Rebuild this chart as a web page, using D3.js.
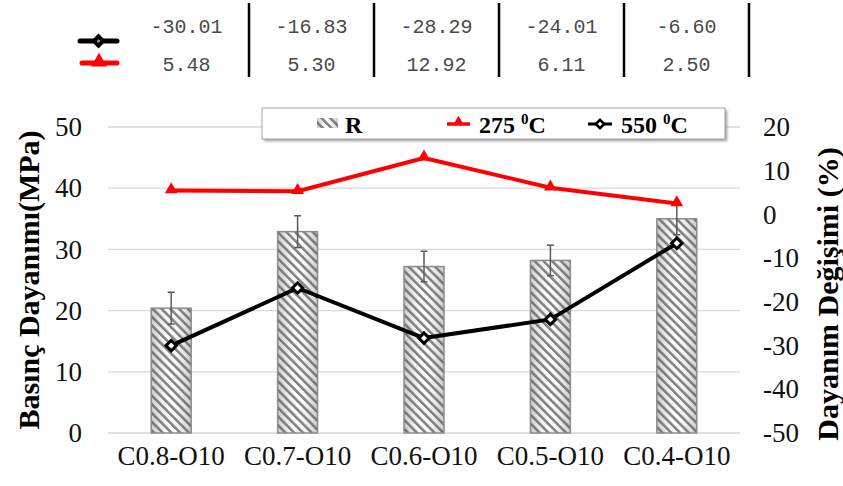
<!DOCTYPE html>
<html>
<head>
<meta charset="utf-8">
<script src="https://cdnjs.cloudflare.com/ajax/libs/d3/7.8.5/d3.min.js"></script>
<style>
  html, body { margin: 0; padding: 0; background: #fff; }
  svg { display: block; }
  .serif { font-family: "Liberation Serif", "Times New Roman", serif; }
  .mono { font-family: "Liberation Mono", "Courier New", monospace; }
</style>
</head>
<body>
<svg id="chart" width="843" height="486"></svg>
<script>
const categories = ["C0.8-O10", "C0.7-O10", "C0.6-O10", "C0.5-O10", "C0.4-O10"];
const strength = [20.4, 32.9, 27.2, 28.2, 35.0];
const strengthErr = [2.6, 2.6, 2.5, 2.5, 2.6];
const change275 = [5.48, 5.30, 12.92, 6.11, 2.50];
const change550 = [-30.01, -16.83, -28.29, -24.01, -6.60];
const tableRow550 = ["-30.01", "-16.83", "-28.29", "-24.01", "-6.60"];
const tableRow275 = ["5.48", "5.30", "12.92", "6.11", "2.50"];
const leftTicks = [0, 10, 20, 30, 40, 50];
const rightTicks = [-50, -40, -30, -20, -10, 0, 10, 20];
const leftTitle = "Basınç Dayanımı(MPa)";
const rightTitle = "Dayanım Değişimi (%)";

const svg = d3.select("#chart");
const fmt = d => String(d);

const x = d3.scaleBand().domain(categories).range([108, 740]).paddingInner(0.684).paddingOuter(0.342);
const yL = d3.scaleLinear().domain([0, 50]).range([433, 127]);
const yR = d3.scaleLinear().domain([-50, 20]).range([433, 127]);
const xt = d3.scaleBand().domain(categories).range([124, 749]);

// defs
const defs = svg.append("defs");
const pat = defs.append("pattern").attr("id", "hatch").attr("patternUnits", "userSpaceOnUse")
  .attr("width", 6.2).attr("height", 6.2).attr("patternTransform", "rotate(-45)");
pat.append("rect").attr("width", 6.2).attr("height", 6.2).attr("fill", "#fff");
pat.append("rect").attr("x", 0).attr("width", 2.5).attr("height", 6.2).attr("fill", "#5e5e5e");
const grad = defs.append("linearGradient").attr("id", "shade").attr("x1", 0).attr("x2", 1).attr("y1", 0).attr("y2", 0);
grad.append("stop").attr("offset", "0%").attr("stop-color", "#888").attr("stop-opacity", 0.45);
grad.append("stop").attr("offset", "50%").attr("stop-color", "#fff").attr("stop-opacity", 0.2);
grad.append("stop").attr("offset", "100%").attr("stop-color", "#888").attr("stop-opacity", 0.45);
const blur = defs.append("filter").attr("id", "shadow").attr("x", "-5%").attr("y", "-30%").attr("width", "110%").attr("height", "160%");
blur.append("feGaussianBlur").attr("stdDeviation", 1.5);

// gridlines
svg.append("g").selectAll("line").data(leftTicks).join("line")
  .attr("x1", 108).attr("x2", 740)
  .attr("y1", d => yL(d)).attr("y2", d => yL(d))
  .attr("stroke", "#d9d9d9").attr("stroke-width", 1.3);

function styleAxis(g) {
  g.select(".domain").remove();
  g.attr("font-family", null).attr("font-size", null);
  g.selectAll("text").attr("class", "serif").style("font-size", "27px").attr("fill", "#111");
}

// left axis
const axL = svg.append("g").attr("transform", "translate(108,0)")
  .call(d3.axisLeft(yL).tickValues(leftTicks).tickFormat(fmt).tickSize(0).tickPadding(26));
styleAxis(axL);

// right axis
const axR = svg.append("g").attr("transform", "translate(740,0)")
  .call(d3.axisRight(yR).tickValues(rightTicks).tickFormat(fmt).tickSize(0).tickPadding(23));
styleAxis(axR);

// x axis labels
const axB = svg.append("g").attr("transform", "translate(0,433)")
  .call(d3.axisBottom(x).tickSize(0).tickPadding(13));
styleAxis(axB);

// bars
const bars = svg.append("g");
bars.selectAll("rect.bar").data(categories).join("rect").attr("class", "bar")
  .attr("x", d => x(d)).attr("width", x.bandwidth())
  .attr("y", (d, i) => yL(strength[i])).attr("height", (d, i) => yL(0) - yL(strength[i]))
  .attr("fill", "url(#hatch)");
bars.selectAll("rect.shade").data(categories).join("rect").attr("class", "shade")
  .attr("x", d => x(d)).attr("width", x.bandwidth())
  .attr("y", (d, i) => yL(strength[i])).attr("height", (d, i) => yL(0) - yL(strength[i]))
  .attr("fill", "url(#shade)").attr("stroke", "#8c8c8c").attr("stroke-width", 1.5);

// error bars
const eb = svg.append("g").attr("stroke", "#5a5a5a").attr("stroke-width", 1.5);
categories.forEach((c, i) => {
  const cx = x(c) + x.bandwidth() / 2;
  const top = yL(strength[i] + strengthErr[i]), bot = yL(strength[i] - strengthErr[i]);
  eb.append("line").attr("x1", cx).attr("x2", cx).attr("y1", top).attr("y2", bot);
  eb.append("line").attr("x1", cx - 3.5).attr("x2", cx + 3.5).attr("y1", top).attr("y2", top);
  eb.append("line").attr("x1", cx - 3.5).attr("x2", cx + 3.5).attr("y1", bot).attr("y2", bot);
});

const cxOf = c => x(c) + x.bandwidth() / 2;

// 275 line
const line275 = d3.line().x((d, i) => cxOf(categories[i])).y(d => yR(d));
svg.append("path").datum(change275).attr("d", line275)
  .attr("fill", "none").attr("stroke", "#ff0000").attr("stroke-width", 4).attr("stroke-linejoin", "round");
const tri = d3.symbol().type(d3.symbolTriangle).size(70);
svg.append("g").selectAll("path").data(change275).join("path")
  .attr("d", tri).attr("transform", (d, i) => `translate(${cxOf(categories[i])},${yR(d) - 1})`)
  .attr("fill", "#ff0000");

// 550 line
const line550 = d3.line().x((d, i) => cxOf(categories[i])).y(d => yR(d));
svg.append("path").datum(change550).attr("d", line550)
  .attr("fill", "none").attr("stroke", "#000").attr("stroke-width", 4).attr("stroke-linejoin", "round");
const dia = d3.symbol().type(d3.symbolDiamond2).size(70);
svg.append("g").selectAll("path").data(change550).join("path")
  .attr("d", dia).attr("transform", (d, i) => `translate(${cxOf(categories[i])},${yR(d)})`)
  .attr("fill", "#fff").attr("stroke", "#000").attr("stroke-width", 3);

// legend box
const lg = svg.append("g");
lg.append("rect").attr("x", 264).attr("y", 110).attr("width", 463).attr("height", 31)
  .attr("fill", "#999").attr("filter", "url(#shadow)");
lg.append("rect").attr("x", 262).attr("y", 108).attr("width", 463).attr("height", 31)
  .attr("fill", "#fff").attr("stroke", "#a6a6a6").attr("stroke-width", 1);
lg.append("rect").attr("x", 317).attr("y", 118).attr("width", 21).attr("height", 10)
  .attr("fill", "url(#hatch)");
lg.append("rect").attr("x", 317).attr("y", 118).attr("width", 21).attr("height", 10)
  .attr("fill", "url(#shade)");
lg.append("text").attr("class", "serif").attr("x", 345).attr("y", 133).attr("font-weight", "bold")
  .style("font-size", "24px").text("R");
lg.append("line").attr("x1", 447).attr("x2", 470).attr("y1", 124).attr("y2", 124)
  .attr("stroke", "#ff0000").attr("stroke-width", 3.5);
lg.append("path").attr("d", d3.symbol().type(d3.symbolTriangle).size(50)).attr("transform", "translate(458.5,122)")
  .attr("fill", "#ff0000");
lg.append("line").attr("x1", 588).attr("x2", 612).attr("y1", 124).attr("y2", 124)
  .attr("stroke", "#000").attr("stroke-width", 3);
lg.append("path").attr("d", d3.symbol().type(d3.symbolDiamond2).size(45)).attr("transform", "translate(600,124)")
  .attr("fill", "#fff").attr("stroke", "#000").attr("stroke-width", 2.5);
function degLabel(x0, num) {
  const t = lg.append("text").attr("class", "serif").attr("x", x0).attr("y", 133)
    .attr("font-weight", "bold").style("font-size", "24px");
  t.append("tspan").text(num + " ");
  t.append("tspan").attr("dy", -9).style("font-size", "15px").text("0");
  t.append("tspan").attr("dy", 9).text("C");
}
degLabel(479, "275");
degLabel(621, "550");

// axis titles
svg.append("text").attr("class", "serif").attr("transform", "translate(28,280) rotate(-90)").attr("text-anchor", "middle")
  .attr("dy", "0.35em").attr("font-weight", "bold").style("font-size", "30px")
  .attr("fill", "#000").text(leftTitle);
svg.append("text").attr("class", "serif").attr("transform", "translate(827,294) rotate(-90)").attr("text-anchor", "middle")
  .attr("dy", "0.35em").attr("font-weight", "bold").style("font-size", "30px")
  .attr("fill", "#000").text(rightTitle);

// data table at top
const tb = svg.append("g");
const seps = xt.domain().map(c => xt(c) + xt.bandwidth());
tb.selectAll("line").data(seps).join("line")
  .attr("x1", d => d).attr("x2", d => d).attr("y1", 3).attr("y2", 77)
  .attr("stroke", "#000").attr("stroke-width", 2.5);
tb.selectAll("text.r1").data(tableRow550).join("text").attr("class", "mono")
  .attr("x", (d, i) => xt(categories[i]) + xt.bandwidth() / 2).attr("y", 33)
  .attr("text-anchor", "middle").style("font-size", "20px").attr("fill", "#4a4a4a").text(d => d);
tb.selectAll("text.r2").data(tableRow275).join("text").attr("class", "mono")
  .attr("x", (d, i) => xt(categories[i]) + xt.bandwidth() / 2).attr("y", 71)
  .attr("text-anchor", "middle").style("font-size", "20px").attr("fill", "#4a4a4a").text(d => d);
// table legend keys
tb.append("line").attr("x1", 80).attr("x2", 117).attr("y1", 41).attr("y2", 41)
  .attr("stroke", "#000").attr("stroke-width", 5).attr("stroke-linecap", "round");
tb.append("path").attr("d", d3.symbol().type(d3.symbolSquare).size(110))
  .attr("transform", "translate(98.5,41) rotate(45)").attr("fill", "#000");
tb.append("circle").attr("cx", 98.5).attr("cy", 41).attr("r", 1.5).attr("fill", "#999");
tb.append("line").attr("x1", 82).attr("x2", 117).attr("y1", 63).attr("y2", 63)
  .attr("stroke", "#ff0000").attr("stroke-width", 5).attr("stroke-linecap", "round");
tb.append("path").attr("d", d3.symbol().type(d3.symbolTriangle).size(110))
  .attr("transform", "translate(99,62)").attr("fill", "#ff0000");
</script>
</body>
</html>
